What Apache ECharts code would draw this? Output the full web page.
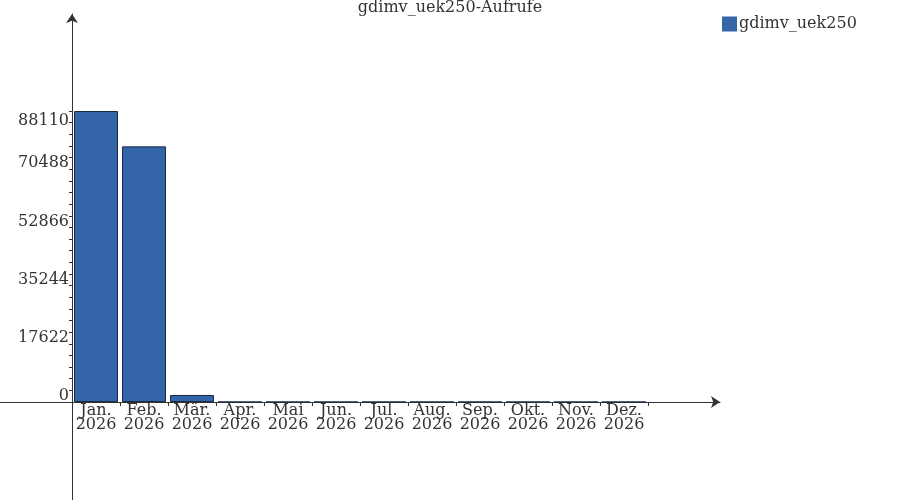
<!DOCTYPE html>
<html><head><meta charset="utf-8">
<script src="https://cdn.jsdelivr.net/npm/echarts@6/dist/echarts.min.js"></script>
<style>html,body{margin:0;padding:0;background:#fff}#c{width:900px;height:500px}</style>
</head><body><div id="c"></div>
<script>
const months = ['Jan.','Feb.','Mär.','Apr.','Mai','Jun.','Jul.','Aug.','Sep.','Okt.','Nov.','Dez.'];
const year = '2026';
const values = [88110, 77400, 2120, 0, 0, 0, 0, 0, 0, 0, 0, 0];
const yMax = 88110;
const yInterval = 17622;
const seriesName = 'gdimv_uek250';
const titleText = 'gdimv_uek250-Aufrufe';

const categories = months.map(m => m + '\n' + year);
const FONT = 'DejaVu Serif';
const TXT = '#333333';

const chart = echarts.init(document.getElementById('c'), null, {renderer:'canvas'});
chart.setOption({
  animation:false,
  backgroundColor:'#ffffff',
  title:{text:titleText,left:'center',top:0,padding:0,
    textStyle:{fontFamily:FONT,fontSize:16,fontWeight:'normal',color:TXT}},
  legend:{left:722,top:16,padding:0,itemWidth:15,itemHeight:15,icon:'rect',
    data:[seriesName],
    itemStyle:{borderWidth:0},
    textStyle:{fontFamily:FONT,fontSize:16,color:TXT,padding:[0,0,0,-3]}},
  grid:[
    {left:72,right:252,top:111,bottom:98,containLabel:false},
    {left:0,right:180,top:14,bottom:0,containLabel:false}
  ],
  xAxis:[
    {type:'category',gridIndex:0,data:categories,
      axisLine:{show:false},
      axisTick:{show:true,length:4,inside:false,alignWithLabel:false,lineStyle:{color:'#333',width:1}},
      axisLabel:{interval:0,margin:2,fontFamily:FONT,fontSize:16,lineHeight:14,color:TXT},
      splitLine:{show:false}},
    {type:'value',gridIndex:1,min:-72,max:648,
      axisLine:{show:true,onZero:true,symbol:['none','arrow'],symbolSize:[9,9],lineStyle:{color:'#333',width:1}},
      axisTick:{show:false},axisLabel:{show:false},splitLine:{show:false}}
  ],
  yAxis:[
    {type:'value',gridIndex:0,min:0,max:yMax,interval:yInterval,
      axisLine:{show:false},
      axisTick:{show:true,length:3,lineStyle:{color:'#333',width:1}},
      minorTick:{show:true,splitNumber:5,length:3,lineStyle:{color:'#333',width:1}},
      splitLine:{show:false},minorSplitLine:{show:false},
      axisLabel:{margin:3,color:TXT,fontFamily:FONT,fontSize:16,verticalAlign:'middle',
        formatter:function(v){return v===yMax?'{t|'+v+'}':'{b|'+v+'}';},
        rich:{
          t:{fontFamily:FONT,fontSize:16,color:TXT,padding:[20,0,0,0]},
          b:{fontFamily:FONT,fontSize:16,color:TXT,padding:[0,0,12,0]}
        }}},
    {type:'value',gridIndex:1,min:-98,max:388,
      axisLine:{show:true,onZero:true,symbol:['none','arrow'],symbolSize:[9,9],lineStyle:{color:'#333',width:1}},
      axisTick:{show:false},axisLabel:{show:false},splitLine:{show:false}}
  ],
  series:[
    {name:seriesName,type:'bar',xAxisIndex:0,yAxisIndex:0,data:values,barWidth:44,
      itemStyle:{color:'#3465a8',borderColor:'#1a2b48',borderWidth:1}},
    {type:'line',xAxisIndex:1,yAxisIndex:1,data:[],silent:true}
  ]
});
</script></body></html>
